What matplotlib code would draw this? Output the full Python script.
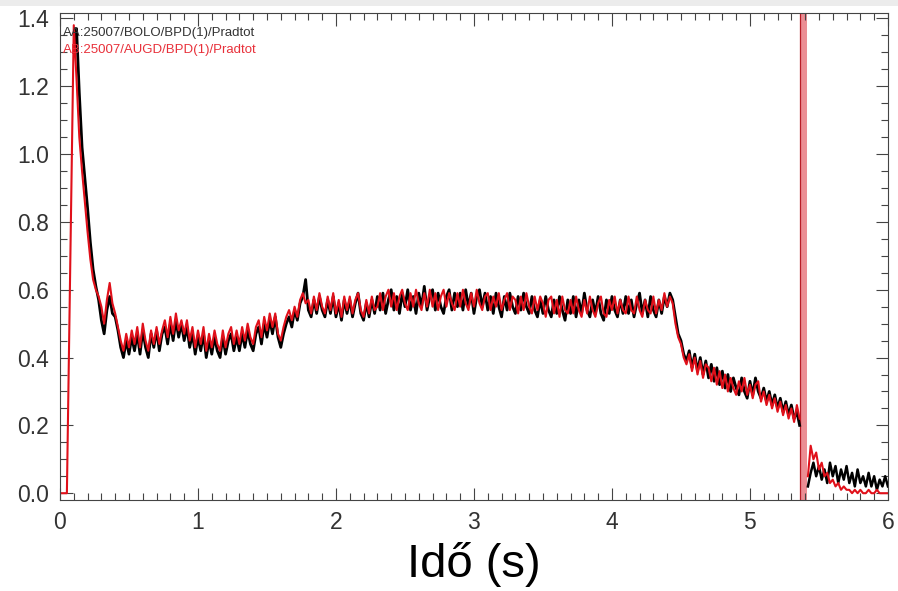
import numpy as np
import matplotlib.pyplot as plt
from matplotlib.ticker import MultipleLocator

plt.rcParams['font.family'] = ['Liberation Sans', 'DejaVu Sans']

# Idotengely: a jelek 0.02 s-os lepessel (0.10 s-tol 5.36 s-ig)
t0, dt = 0.10, 0.02

# AA:25007/BOLO/BPD(1)/Pradtot (fekete)
bolo = [1.30, 1.37, 1.18, 1.02, 0.93, 0.84, 0.74, 0.66, 0.61, 0.57,
        0.51, 0.47, 0.54, 0.58, 0.53, 0.52, 0.48, 0.43, 0.40, 0.45,
        0.41, 0.46, 0.42, 0.47, 0.41, 0.48, 0.43, 0.40, 0.47, 0.43,
        0.48, 0.42, 0.47, 0.49, 0.44, 0.50, 0.45, 0.51, 0.46, 0.50,
        0.45, 0.49, 0.43, 0.47, 0.41, 0.46, 0.42, 0.47, 0.40, 0.45,
        0.41, 0.46, 0.42, 0.40, 0.46, 0.41, 0.45, 0.47, 0.42, 0.46,
        0.42, 0.47, 0.43, 0.48, 0.44, 0.42, 0.47, 0.49, 0.44, 0.50,
        0.46, 0.51, 0.47, 0.52, 0.46, 0.43, 0.47, 0.50, 0.52, 0.49,
        0.54, 0.51, 0.56, 0.58, 0.63, 0.54, 0.52, 0.57, 0.53, 0.58,
        0.54, 0.52, 0.57, 0.53, 0.58, 0.52, 0.56, 0.51, 0.57, 0.53,
        0.57, 0.52, 0.56, 0.59, 0.53, 0.51, 0.56, 0.52, 0.57, 0.53,
        0.58, 0.54, 0.59, 0.53, 0.57, 0.60, 0.54, 0.58, 0.53, 0.59,
        0.55, 0.60, 0.54, 0.58, 0.53, 0.59, 0.55, 0.61, 0.54, 0.58,
        0.60, 0.54, 0.59, 0.55, 0.53, 0.58, 0.60, 0.54, 0.59, 0.55,
        0.59, 0.54, 0.60, 0.55, 0.59, 0.53, 0.58, 0.60, 0.55, 0.59,
        0.54, 0.58, 0.53, 0.59, 0.55, 0.52, 0.58, 0.54, 0.59, 0.55,
        0.53, 0.58, 0.54, 0.59, 0.55, 0.53, 0.58, 0.54, 0.52, 0.57,
        0.53, 0.58, 0.54, 0.52, 0.57, 0.53, 0.58, 0.54, 0.51, 0.57,
        0.53, 0.58, 0.52, 0.57, 0.53, 0.59, 0.54, 0.52, 0.57, 0.53,
        0.58, 0.53, 0.51, 0.57, 0.53, 0.58, 0.54, 0.52, 0.57, 0.53,
        0.58, 0.53, 0.57, 0.52, 0.56, 0.59, 0.53, 0.57, 0.52, 0.58,
        0.54, 0.52, 0.57, 0.53, 0.58, 0.55, 0.59, 0.57, 0.52, 0.47,
        0.45, 0.41, 0.39, 0.42, 0.37, 0.41, 0.36, 0.40, 0.35, 0.39,
        0.34, 0.38, 0.33, 0.37, 0.32, 0.36, 0.31, 0.35, 0.30, 0.34,
        0.31, 0.29, 0.34, 0.30, 0.28, 0.33, 0.29, 0.34, 0.30, 0.28,
        0.31, 0.27, 0.30, 0.26, 0.29, 0.25, 0.28, 0.24, 0.27, 0.23,
        0.26, 0.22, 0.24, 0.20]

# AB:25007/AUGD/BPD(1)/Pradtot (piros)
augd = [1.38, 1.22, 1.05, 0.95, 0.86, 0.77, 0.69, 0.63, 0.60, 0.58,
        0.55, 0.50, 0.57, 0.62, 0.56, 0.53, 0.49, 0.45, 0.42, 0.47,
        0.43, 0.48, 0.44, 0.49, 0.43, 0.50, 0.45, 0.42, 0.48, 0.44,
        0.49, 0.44, 0.48, 0.51, 0.46, 0.52, 0.47, 0.53, 0.48, 0.51,
        0.47, 0.51, 0.45, 0.49, 0.43, 0.48, 0.44, 0.49, 0.42, 0.47,
        0.43, 0.48, 0.44, 0.42, 0.48, 0.43, 0.47, 0.49, 0.44, 0.48,
        0.44, 0.49, 0.45, 0.50, 0.46, 0.44, 0.49, 0.51, 0.46, 0.52,
        0.48, 0.53, 0.49, 0.53, 0.47, 0.45, 0.49, 0.52, 0.54, 0.51,
        0.55, 0.52, 0.57, 0.59, 0.56, 0.57, 0.53, 0.58, 0.54, 0.59,
        0.55, 0.53, 0.58, 0.54, 0.59, 0.53, 0.57, 0.52, 0.58, 0.54,
        0.58, 0.53, 0.57, 0.59, 0.54, 0.52, 0.57, 0.53, 0.58, 0.54,
        0.55, 0.59, 0.54, 0.58, 0.60, 0.55, 0.59, 0.54, 0.58, 0.60,
        0.56, 0.54, 0.59, 0.55, 0.60, 0.56, 0.54, 0.59, 0.55, 0.60,
        0.55, 0.59, 0.54, 0.58, 0.60, 0.55, 0.59, 0.56, 0.54, 0.59,
        0.55, 0.60, 0.56, 0.54, 0.59, 0.55, 0.60, 0.56, 0.54, 0.58,
        0.59, 0.54, 0.58, 0.55, 0.59, 0.54, 0.57, 0.59, 0.54, 0.58,
        0.57, 0.53, 0.58, 0.54, 0.59, 0.55, 0.53, 0.58, 0.54, 0.58,
        0.56, 0.52, 0.57, 0.58, 0.53, 0.57, 0.52, 0.58, 0.54, 0.53,
        0.57, 0.53, 0.58, 0.54, 0.52, 0.57, 0.53, 0.58, 0.54, 0.52,
        0.56, 0.58, 0.53, 0.52, 0.57, 0.54, 0.58, 0.53, 0.57, 0.54,
        0.53, 0.58, 0.54, 0.53, 0.58, 0.54, 0.52, 0.57, 0.54, 0.53,
        0.58, 0.53, 0.57, 0.54, 0.59, 0.55, 0.58, 0.56, 0.50, 0.46,
        0.44, 0.40, 0.38, 0.41, 0.36, 0.40, 0.35, 0.39, 0.34, 0.38,
        0.37, 0.33, 0.37, 0.32, 0.36, 0.31, 0.35, 0.30, 0.34, 0.31,
        0.29, 0.33, 0.30, 0.34, 0.29, 0.32, 0.28, 0.32, 0.33, 0.27,
        0.30, 0.26, 0.29, 0.25, 0.28, 0.24, 0.27, 0.23, 0.26, 0.22,
        0.25, 0.21, 0.26, 0.22]

# piros felfutas az elejen
augd_head_t = [0.0, 0.05]
augd_head = [0.0, 0.0]

# a diszrupcio utani resz, 5.42 s-tol 0.02 s-os lepessel
tail_t0 = 5.42
bolo_tail = [0.02, 0.06, 0.09, 0.05, 0.08, 0.04, 0.07, 0.03, 0.09, 0.05,
             0.08, 0.03, 0.07, 0.04, 0.08, 0.03, 0.06, 0.02, 0.07, 0.03,
             0.05, 0.02, 0.06, 0.02, 0.05, 0.01, 0.04, 0.02, 0.05, 0.02]
augd_tail = [0.05, 0.14, 0.10, 0.12, 0.07, 0.09, 0.05, 0.06, 0.03, 0.04,
             0.02, 0.03, 0.01, 0.02, 0.01, 0.01, 0.00, 0.01, 0.00, 0.01,
             0.00, 0.00, 0.01, 0.00, 0.00, 0.01, 0.00, 0.00, 0.00, 0.00]

# diszrupcio idopontja (piros sav)
t_disr = (5.36, 5.415)

t = t0 + dt * np.arange(len(bolo))
t_tail = tail_t0 + dt * np.arange(len(bolo_tail))

fig = plt.figure(figsize=(8.98, 5.91), dpi=100)
# halvanyszurke csik a kep tetejen
fig.patches.append(plt.Rectangle((0, 0.99), 1, 0.01, transform=fig.transFigure,
                                 color='#ececec', lw=0))
ax = fig.add_axes([0.0668, 0.154, 0.922, 0.824])

ax.axvspan(t_disr[0], t_disr[1], color='#eb8e94', lw=0)
ax.axvline(t_disr[0] + 0.006, color='#b81c26', lw=0.9)

ax.plot(t, bolo, color='black', lw=2.0)
ax.plot(t_tail, bolo_tail, color='black', lw=1.8)
ax.plot(np.concatenate([augd_head_t, t]), augd_head + augd, color='#e0101a', lw=1.5)
ax.plot(t_tail, augd_tail, color='#e0101a', lw=1.5)

ax.set_xlim(0, 6)
ax.set_ylim(-0.02, 1.416)
ax.xaxis.set_major_locator(MultipleLocator(1))
ax.xaxis.set_minor_locator(MultipleLocator(0.1))
ax.yaxis.set_major_locator(MultipleLocator(0.2))
ax.yaxis.set_minor_locator(MultipleLocator(0.05))
ax.tick_params(which='both', direction='in', top=True, right=True,
               labelsize=16.5, labelcolor='#333333', color='#444444', width=0.8)
ax.tick_params(which='major', length=9, pad=8)
ax.tick_params(which='minor', length=5)
ax.yaxis.set_major_formatter(plt.FuncFormatter(lambda v, p: f"{v:.1f}"))
for s in ax.spines.values():
    s.set_color('#444444')
    s.set_linewidth(0.8)

ax.text(0.004, 0.959, "AA:25007/BOLO/BPD(1)/Pradtot", transform=ax.transAxes,
        fontsize=9.5, color='#333333', va='center')
ax.text(0.004, 0.924, "AB:25007/AUGD/BPD(1)/Pradtot", transform=ax.transAxes,
        fontsize=9.5, color='#e8303a', va='center')

ax.set_xlabel("Idő (s)", fontsize=34, labelpad=6)

fig.savefig("out.png", dpi=100)
